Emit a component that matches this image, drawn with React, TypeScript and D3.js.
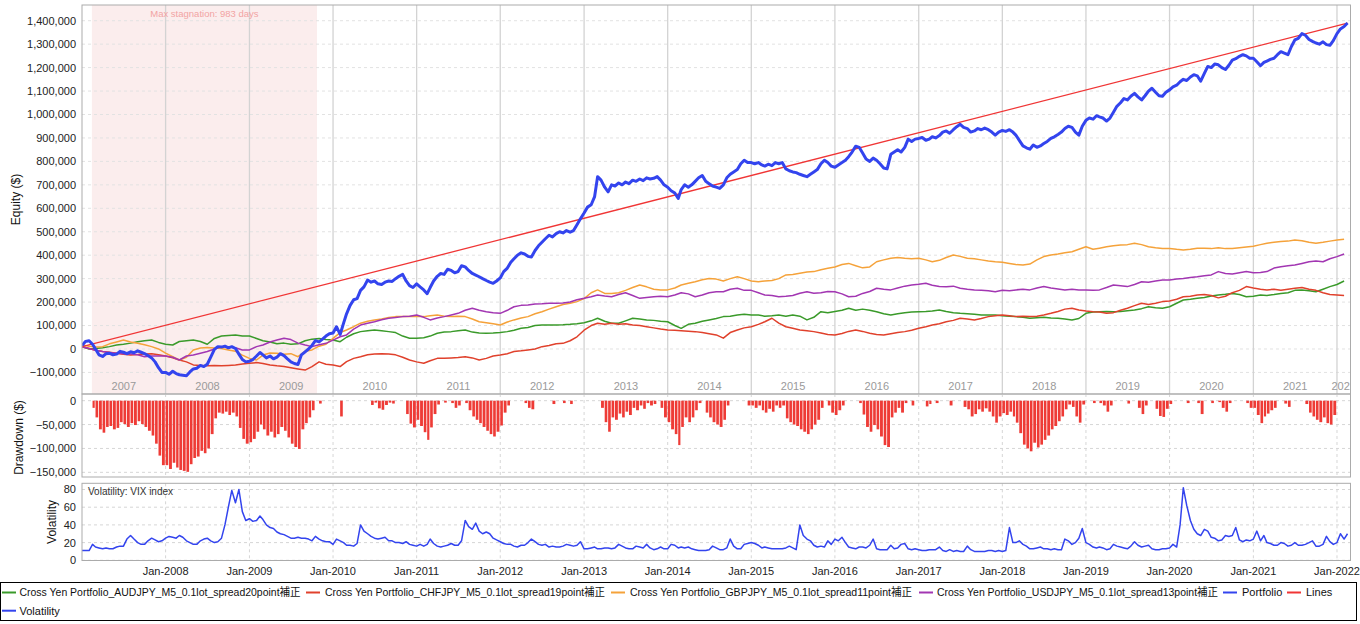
import React from 'react';
import * as d3 from 'd3';

// ---------------- DATA ----------------
// Portfolio equity, semi-monthly (1st & 16th of each month) from Jan-2007, in thousand $
const portfolioK = [
  15, 32, 35, 20, 0, -25, -32, -20, -18, -25, -22, -10, -14, -20, -12, -16, -8, -14, -20, -28, -38, -55, -80, -100,
  -100, -108, -95, -105, -110, -112, -114, -98, -85, -82, -70, -75, -65, -35, -2, 10, 8, 12, 5, 10, 2, -22, -45, -55,
  -52, -45, -30, -15, -25, -38, -30, -42, -35, -20, -28, -42, -55, -62, -66, -25, -12, 0, 15, 36, 30, 42, 55, 65,
  68, 95, 62, 110, 150, 185, 210, 215, 250, 265, 294, 285, 290, 278, 275, 285, 290, 288, 300, 310, 318, 290, 270, 262,
  278, 265, 252, 236, 262, 290, 310, 322, 318, 340, 335, 325, 330, 355, 350, 335, 322, 315, 308, 300, 292, 285, 280, 290,
  303, 330, 345, 370, 385, 400, 410, 405, 395, 392, 420, 440, 455, 470, 485, 478, 492, 500, 495, 505, 498, 505, 530, 555,
  580, 605, 615, 650, 735, 720, 690, 670, 700, 695, 708, 700, 712, 705, 720, 715, 725, 718, 730, 725, 728, 735, 720, 700,
  690, 675, 665, 642, 680, 700, 690, 700, 715, 730, 740, 715, 705, 695, 690, 685, 700, 730, 745, 755, 765, 790, 805, 795,
  795, 790, 795, 785, 780, 788, 782, 795, 790, 795, 768, 760, 755, 752, 745, 740, 735, 745, 755, 765, 790, 805, 795, 780,
  775, 785, 795, 805, 820, 840, 865, 860, 836, 810, 800, 814, 805, 790, 772, 768, 830, 840, 850, 840, 860, 895, 885, 895,
  898, 902, 890, 895, 905, 900, 910, 925, 930, 920, 935, 948, 958, 945, 940, 925, 930, 940, 935, 942, 935, 925, 912, 925,
  932, 928, 935, 925, 912, 890, 866, 858, 852, 870, 860, 866, 876, 885, 898, 905, 915, 925, 940, 950, 945, 925, 912, 950,
  975, 985, 980, 995, 990, 985, 972, 985, 1010, 1035, 1050, 1068, 1062, 1078, 1090, 1075, 1062, 1080, 1100, 1112, 1095, 1080, 1078, 1095,
  1105, 1118, 1125, 1140, 1150, 1145, 1160, 1170, 1165, 1142, 1175, 1205, 1200, 1215, 1212, 1200, 1192, 1210, 1232, 1238, 1248, 1255, 1250, 1240,
  1240, 1225, 1208, 1222, 1228, 1235, 1240, 1255, 1268, 1262, 1255, 1290, 1318, 1325, 1345, 1338, 1320, 1312, 1305, 1300, 1310, 1298, 1295, 1315,
  1345, 1365, 1375, 1390,
];

// Component strategies, monthly (1st of each month) from Jan-2007, in thousand $
const audjpyK = [
  10, 0, 2, 5, 10, 17, 20, 25, 31, 35, 38, 28,
  20, 17, 32, 35, 38, 32, 20, 45, 55, 58, 60, 55,
  55, 45, 35, 30, 22, 25, 20, 22, 35, 42, 45, 40,
  38, 31, 50, 65, 74, 78, 81, 78, 74, 70, 55, 46,
  46, 48, 55, 67, 72, 74, 78, 81, 72, 68, 67, 68,
  70, 74, 80, 88, 92, 100, 102, 102, 102, 103, 105, 108,
  112, 120, 131, 118, 110, 110, 120, 131, 128, 124, 122, 118,
  116, 100, 88, 105, 110, 118, 124, 130, 138, 140, 145, 148,
  145, 145, 140, 142, 145, 140, 145, 140, 124, 135, 159, 155,
  160, 165, 174, 165, 170, 165, 159, 150, 145, 150, 155, 158,
  159, 160, 162, 166, 160, 155, 152, 150, 148, 145, 145, 145,
  142, 140, 138, 135, 131, 133, 135, 132, 131, 128, 124, 130,
  152, 158, 159, 160, 159, 160, 163, 166, 172, 180, 176, 174,
  180, 195, 209, 212, 216, 220, 226, 230, 233, 237, 232, 223,
  225, 230, 228, 232, 237, 240, 250, 252, 248, 244, 255, 266,
  275, 290,
];
const chfjpyK = [
  10, 2, -5, -11, -14, -18, -22, -26, -24, -21, -20, -25,
  -30, -38, -47, -55, -68, -70, -72, -70, -72, -70, -68, -64,
  -61, -58, -62, -68, -72, -75, -80, -85, -90, -75, -55, -65,
  -68, -75, -54, -40, -33, -25, -21, -20, -21, -25, -35, -47,
  -55, -61, -50, -40, -40, -38, -36, -33, -38, -47, -40, -30,
  -26, -20, -11, -8, -4, 0, 10, 15, 22, 24, 35, 52,
  80, 100, 110, 105, 110, 105, 108, 102, 100, 95, 90, 85,
  81, 80, 78, 76, 74, 70, 65, 60, 46, 70, 81, 90,
  95, 105, 116, 131, 110, 95, 88, 81, 78, 74, 68, 62,
  60, 66, 75, 81, 75, 67, 62, 60, 65, 70, 74, 80,
  88, 95, 102, 108, 116, 122, 131, 128, 124, 130, 138, 142,
  145, 142, 138, 140, 138, 140, 145, 152, 160, 170, 174, 166,
  162, 159, 158, 152, 155, 165, 174, 185, 195, 190, 195, 202,
  205, 212, 223, 225, 230, 232, 228, 218, 225, 240, 250, 266,
  260, 255, 252, 255, 250, 255, 259, 262, 255, 250, 240, 232,
  230, 228,
];
const gbpjpyK = [
  17, 12, 8, 10, 22, 30, 38, 30, 24, 18, 10, 0,
  -18, -33, -47, -35, -4, 4, 6, 4, 2, -4, -10, -26,
  -40, -47, -26, -17, -18, -22, -20, -33, -10, -4, 12, 20,
  45, 70, 81, 95, 110, 118, 124, 128, 134, 138, 138, 138,
  138, 138, 142, 145, 140, 138, 140, 138, 128, 116, 112, 108,
  102, 115, 124, 132, 138, 150, 159, 170, 180, 190, 195, 202,
  215, 240, 252, 237, 237, 240, 250, 262, 273, 265, 255, 252,
  252, 260, 273, 280, 287, 295, 301, 298, 290, 300, 308, 300,
  290, 287, 290, 292, 300, 316, 318, 323, 328, 330, 338, 344,
  350, 360, 365, 355, 346, 350, 372, 380, 387, 390, 387, 385,
  387, 380, 372, 378, 390, 401, 395, 387, 385, 380, 375, 372,
  370, 365, 360, 358, 362, 380, 394, 401, 405, 410, 415, 425,
  436, 425, 430, 436, 440, 443, 445, 451, 445, 436, 432, 429,
  429, 425, 422, 425, 430, 430, 428, 432, 428, 429, 432, 435,
  438, 445, 451, 455, 458, 460, 465, 462, 455, 451, 455, 460,
  465, 468,
];
const usdjpyK = [
  10, 2, -5, -11, -15, -18, -20, -21, -25, -33, -30, -30,
  -30, -35, -47, -30, -26, -18, -11, 0, 10, 8, 5, -4,
  -4, 10, 17, 30, 38, 46, 40, 25, 17, 10, 18, 24,
  38, 52, 60, 85, 102, 110, 116, 125, 131, 134, 138, 140,
  145, 135, 124, 132, 138, 145, 152, 165, 174, 165, 159, 155,
  152, 165, 180, 186, 188, 192, 193, 195, 195, 196, 200, 210,
  216, 223, 230, 226, 223, 232, 240, 228, 216, 220, 223, 225,
  223, 230, 240, 235, 223, 230, 240, 244, 244, 255, 259, 250,
  250, 240, 230, 228, 223, 225, 228, 238, 244, 238, 240, 245,
  244, 235, 223, 225, 237, 245, 259, 255, 252, 260, 268, 273,
  276, 280, 272, 266, 265, 268, 259, 255, 252, 250, 248, 244,
  250, 248, 252, 255, 252, 260, 266, 260, 256, 252, 255, 252,
  252, 250, 252, 262, 273, 270, 266, 275, 287, 285, 290, 294,
  294, 298, 301, 305, 308, 312, 316, 330, 322, 320, 325, 330,
  325, 326, 330, 345, 351, 355, 358, 365, 372, 375, 372, 385,
  394, 405,
];

// Straight reference line ("Lines"): start and end values in thousand $
const linesK = [10, 1390];

// VIX index, semi-monthly from Jan-2007
const vix = [
  11, 11, 11, 18, 15, 14, 13, 14, 13, 13, 15, 16, 16, 24, 28, 24, 20, 18, 18, 22, 25, 23, 21, 22,
  25, 27, 26, 25, 28, 26, 22, 20, 18, 18, 22, 24, 25, 22, 20, 21, 25, 40, 60, 79, 65, 80, 55, 45,
  47, 44, 45, 50, 46, 40, 37, 36, 32, 30, 29, 27, 25, 25, 26, 25, 25, 24, 22, 27, 24, 22, 21, 21,
  18, 24, 22, 20, 17, 17, 16, 19, 40, 33, 30, 27, 25, 24, 25, 26, 22, 22, 20, 20, 19, 21, 18, 17,
  16, 18, 16, 18, 24, 19, 16, 15, 16, 17, 19, 17, 17, 22, 45, 38, 35, 42, 33, 30, 32, 30, 25, 23,
  21, 19, 18, 18, 16, 15, 17, 17, 20, 24, 21, 18, 17, 18, 15, 16, 15, 15, 16, 18, 17, 16, 17, 21,
  13, 13, 14, 15, 13, 13, 14, 14, 13, 14, 18, 16, 14, 13, 13, 16, 15, 14, 18, 14, 12, 13, 15, 13,
  13, 18, 17, 14, 15, 14, 15, 13, 12, 11, 11, 11, 12, 16, 14, 12, 12, 14, 24, 16, 13, 13, 18, 19,
  20, 19, 17, 14, 15, 14, 13, 13, 13, 13, 14, 16, 14, 12, 40, 28, 24, 22, 17, 15, 16, 15, 22, 18,
  24, 22, 26, 20, 15, 14, 13, 15, 15, 14, 17, 24, 13, 12, 12, 12, 17, 13, 14, 18, 19, 13, 12, 13,
  12, 11, 11, 12, 12, 12, 15, 11, 10, 12, 10, 11, 10, 10, 16, 12, 10, 10, 10, 10, 11, 11, 10, 11,
  10, 11, 37, 20, 20, 22, 18, 16, 13, 13, 14, 15, 13, 13, 12, 13, 12, 12, 24, 22, 18, 20, 25, 36,
  20, 18, 15, 14, 15, 14, 12, 13, 18, 16, 15, 14, 13, 16, 21, 17, 15, 16, 17, 13, 12, 12, 13, 13,
  14, 18, 15, 40, 82, 62, 45, 35, 30, 28, 35, 33, 26, 25, 22, 23, 28, 27, 28, 37, 23, 21, 23, 22,
  24, 33, 22, 28, 20, 19, 17, 17, 20, 19, 16, 17, 20, 17, 17, 18, 20, 22, 16, 16, 18, 27, 21, 18,
  20, 30, 24, 30,
];

const yearLabels = ['2007', '2008', '2009', '2010', '2011', '2012', '2013', '2014', '2015', '2016', '2017', '2018', '2019', '2020', '2021', '2022'];
const equityTicks = [-100000, 0, 100000, 200000, 300000, 400000, 500000, 600000, 700000, 800000, 900000, 1000000, 1100000, 1200000, 1300000, 1400000];
const drawdownTicks = [0, -50000, -100000, -150000];
const volTicks = [0, 20, 40, 60, 80];
const stagnationStart = [2007, 1, 13];
const stagnationDays = 983;
const seriesNames = [
  'Cross Yen Portfolio_AUDJPY_M5_0.1lot_spread20point補正',
  'Cross Yen Portfolio_CHFJPY_M5_0.1lot_spread19point補正',
  'Cross Yen Portfolio_GBPJPY_M5_0.1lot_spread11point補正',
  'Cross Yen Portfolio_USDJPY_M5_0.1lot_spread13point補正',
  'Portfolio',
  'Lines',
  'Volatility',
];

// ---------------- STYLE ----------------
const FONT = '"Liberation Sans", Arial, "Noto Sans CJK JP", sans-serif';
const C_GREEN = '#3a9a2a';
const C_RED = '#e0412c';
const C_ORANGE = '#f5a23a';
const C_PURPLE = '#a236b2';
const C_BLUE = '#3344ee';
const C_LINES = '#f03535';
const C_DD = '#ee3b36';

const semiMonthDate = (i: number) => new Date(2007 + Math.floor(i / 24), Math.floor((i % 24) / 2), i % 2 ? 16 : 1);
const monthDate = (i: number) => new Date(2007, i, 1);

export default function App() {
  React.useEffect(() => {
    document.body.style.margin = '0';
  }, []);

  const L = 82, R = 1350.5;
  const mainTop = 5, mainBot = 394;
  const ddTop = 394, ddBot = 477;
  const volTop = 483.3, volBot = 560.5;

  const x = d3.scaleTime().domain([new Date(2007, 0, 1), new Date(2022, 2, 1)]).range([L, R]);
  const yMain = d3.scaleLinear().domain([-192000, 1467000]).range([mainBot, mainTop]);
  const yDD = d3.scaleLinear().domain([-159800, 14000]).range([ddBot, ddTop]);
  const yVol = d3.scaleLinear().domain([0, 87]).range([volBot - 0.2, volTop]);

  const portfolio = portfolioK.map((v, i) => ({ d: semiMonthDate(i), v: v * 1000 }));
  const comps = [
    { data: audjpyK, color: C_GREEN },
    { data: chfjpyK, color: C_RED },
    { data: gbpjpyK, color: C_ORANGE },
    { data: usdjpyK, color: C_PURPLE },
  ].map((s) => ({ color: s.color, pts: s.data.map((v, i) => ({ d: monthDate(i), v: v * 1000 })) }));

  const lineMain = d3
    .line<{ d: Date; v: number }>()
    .x((p) => x(p.d))
    .y((p) => yMain(p.v));

  const linesPts = [
    { d: portfolio[0].d, v: linesK[0] * 1000 },
    { d: portfolio[portfolio.length - 1].d, v: linesK[1] * 1000 },
  ];

  // drawdown from running peak of portfolio
  let peak = -Infinity;
  const dd = portfolio.map((p, i) => {
    peak = Math.max(peak, p.v);
    return { d: p.d, next: i + 1 < portfolio.length ? portfolio[i + 1].d : new Date(2022, 2, 1), v: p.v - peak };
  });

  const volPts = vix.map((v, i) => ({ d: semiMonthDate(i), v }));
  const volLine = d3
    .line<{ d: Date; v: number }>()
    .x((p) => x(p.d))
    .y((p) => yVol(p.v));

  const yearBounds = d3.range(2008, 2023).map((y) => new Date(y, 0, 1));
  const fmt = d3.format(',');

  const stagStart = new Date(stagnationStart[0], stagnationStart[1], stagnationStart[2]);
  const stagEnd = d3.timeDay.offset(stagStart, stagnationDays);

  const yearLabelPos = yearLabels.map((lab) => {
    const y = +lab;
    const a = Math.max(L, x(new Date(y, 0, 1)));
    const b = Math.min(R, x(new Date(y + 1, 0, 1)));
    return { lab, cx: (a + b) / 2 };
  });

  const legendRow1 = [
    { name: seriesNames[0], color: C_GREEN, sx: 2, tx: 19.5, len: 281 },
    { name: seriesNames[1], color: C_RED, sx: 306, tx: 325, len: 280 },
    { name: seriesNames[2], color: C_ORANGE, sx: 611, tx: 630, len: 282 },
    { name: seriesNames[3], color: C_PURPLE, sx: 919, tx: 937, len: 281 },
    { name: seriesNames[4], color: C_BLUE, sx: 1223, tx: 1242, len: 0 },
    { name: seriesNames[5], color: C_LINES, sx: 1287, tx: 1306, len: 0 },
  ];

  return (
    <svg width={1360} height={624} style={{ position: 'absolute', left: 0, top: 0, background: '#fff' }} fontFamily={FONT}>
      <defs>
        <clipPath id="clipMain">
          <rect x={L} y={mainTop} width={R - L} height={mainBot - mainTop} />
        </clipPath>
        <clipPath id="clipDD">
          <rect x={L} y={ddTop} width={R - L} height={ddBot - ddTop} />
        </clipPath>
        <clipPath id="clipVol">
          <rect x={L} y={volTop} width={R - L} height={volBot - volTop} />
        </clipPath>
      </defs>
      <rect x={0} y={0} width={1360} height={624} fill="#fff" />

      {/* ---------- MAIN PANEL ---------- */}
      <g clipPath="url(#clipMain)">
        <rect x={x(stagStart)} y={mainTop} width={x(stagEnd) - x(stagStart)} height={mainBot - mainTop} fill="#fbeded" />
        {equityTicks.map((t) => (
          <line key={t} x1={L} x2={R} y1={yMain(t)} y2={yMain(t)} stroke="#e2e2e2" strokeDasharray="3,3" />
        ))}
        {yearBounds.map((d) => (
          <line key={+d} x1={x(d)} x2={x(d)} y1={mainTop} y2={mainBot} stroke="#d3d3d3" strokeWidth={1.3} />
        ))}
        <text x={(x(stagStart) + x(stagEnd)) / 2} y={17} textAnchor="middle" fontSize={9.5} fill="#f2a3a3">
          Max stagnation: {stagnationDays} days
        </text>
        {yearLabelPos.map((p) => (
          <text key={p.lab} x={p.cx} y={389.5} textAnchor="middle" fontSize={11} fill="#9a9a9a">
            {p.lab}
          </text>
        ))}
        {comps.map((s, i) => (
          <path key={i} d={lineMain(s.pts) || ''} fill="none" stroke={s.color} strokeWidth={1.5} strokeLinejoin="round" />
        ))}
        <path d={lineMain(linesPts) || ''} fill="none" stroke={C_LINES} strokeWidth={1.3} />
        <path d={lineMain(portfolio) || ''} fill="none" stroke={C_BLUE} strokeWidth={3} strokeLinejoin="round" />
      </g>
      <rect x={L} y={mainTop} width={R - L} height={mainBot - mainTop} fill="none" stroke="#ababab" />
      {equityTicks.map((t) => (
        <text key={t} x={76} y={yMain(t)} dy="0.36em" textAnchor="end" fontSize={11} fill="#222">
          {fmt(t)}
        </text>
      ))}
      <text transform={`translate(20,${(mainTop + mainBot) / 2}) rotate(-90)`} textAnchor="middle" fontSize={12} fill="#111">
        Equity ($)
      </text>

      {/* ---------- DRAWDOWN PANEL ---------- */}
      <g clipPath="url(#clipDD)">
        {drawdownTicks.map((t) => (
          <line key={t} x1={L} x2={R} y1={yDD(t)} y2={yDD(t)} stroke="#d6d6d6" strokeDasharray="3,3" />
        ))}
        {yearBounds.map((d) => (
          <line key={+d} x1={x(d)} x2={x(d)} y1={ddTop} y2={ddBot} stroke="#d6d6d6" strokeDasharray="3,3" />
        ))}
        {dd.map((p, i) =>
          p.v < 0 ? (
            <rect
              key={i}
              x={x(p.d)}
              y={yDD(0)}
              width={Math.max(1, x(p.next) - x(p.d) - 0.8)}
              height={yDD(p.v) - yDD(0)}
              fill={C_DD}
            />
          ) : null
        )}
      </g>
      <rect x={L} y={ddTop} width={R - L} height={ddBot - ddTop} fill="none" stroke="#ababab" />
      {drawdownTicks.map((t) => (
        <text key={t} x={76} y={yDD(t)} dy="0.36em" textAnchor="end" fontSize={11} fill="#222">
          {fmt(t)}
        </text>
      ))}
      <text transform={`translate(23,${(ddTop + ddBot) / 2 + 2}) rotate(-90)`} textAnchor="middle" fontSize={12} fill="#111">
        Drawdown ($)
      </text>

      {/* ---------- VOLATILITY PANEL ---------- */}
      <g clipPath="url(#clipVol)">
        {volTicks.map((t) => (
          <line key={t} x1={L} x2={R} y1={yVol(t)} y2={yVol(t)} stroke="#d6d6d6" strokeDasharray="3,3" />
        ))}
        {yearBounds.map((d) => (
          <line key={+d} x1={x(d)} x2={x(d)} y1={volTop} y2={volBot} stroke="#d6d6d6" strokeDasharray="3,3" />
        ))}
        <path d={volLine(volPts) || ''} fill="none" stroke={C_BLUE} strokeWidth={1.5} strokeLinejoin="round" />
        <text x={88} y={495} fontSize={10} fill="#333">
          Volatility: VIX index
        </text>
      </g>
      <rect x={L} y={volTop} width={R - L} height={volBot - volTop} fill="none" stroke="#ababab" />
      {volTicks.map((t) => (
        <text key={t} x={76} y={yVol(t)} dy="0.36em" textAnchor="end" fontSize={11} fill="#222">
          {t}
        </text>
      ))}
      <text transform={`translate(56,${(volTop + volBot) / 2}) rotate(-90)`} textAnchor="middle" fontSize={12} fill="#111">
        Volatility
      </text>

      {/* ---------- X AXIS ---------- */}
      {yearBounds.map((d) => (
        <text key={+d} x={x(d)} y={575} textAnchor="middle" fontSize={11} fill="#222">
          {d3.timeFormat('Jan-%Y')(d)}
        </text>
      ))}

      {/* ---------- LEGEND ---------- */}
      <rect x={0.5} y={582.5} width={1356} height={38} fill="#fff" stroke="#000" />
      {legendRow1.map((it) => (
        <g key={it.name}>
          <line x1={it.sx} x2={it.sx + 14} y1={592.5} y2={592.5} stroke={it.color} strokeWidth={2} />
          <text
            x={it.tx}
            y={592.5}
            dy="0.36em"
            fontSize={11}
            fill="#111"
            {...(it.len ? { textLength: it.len, lengthAdjust: 'spacingAndGlyphs' } : {})}
          >
            {it.name}
          </text>
        </g>
      ))}
      <line x1={2} x2={16} y1={610.7} y2={610.7} stroke={C_BLUE} strokeWidth={2} />
      <text x={19.5} y={610.7} dy="0.36em" fontSize={11} fill="#111">
        {seriesNames[6]}
      </text>
    </svg>
  );
}
